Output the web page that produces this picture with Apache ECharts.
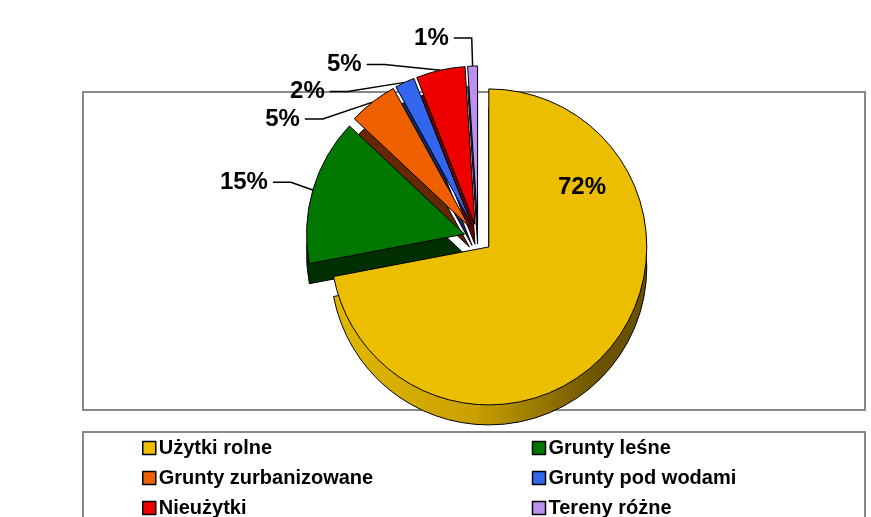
<!DOCTYPE html>
<html><head><meta charset="utf-8">
<script src="https://cdn.jsdelivr.net/npm/echarts@6/dist/echarts.min.js"></script>
<style>html,body{margin:0;padding:0;background:#fff}#c{width:871px;height:517px}</style>
</head><body><div id="c"></div>
<script>
const categories = ['Użytki rolne','Grunty leśne','Grunty zurbanizowane','Grunty pod wodami','Nieużytki','Tereny różne'];
const values = [72, 15, 5, 2, 5, 1];
const colors = ['#EBBE00','#007800','#EE6000','#3366EE','#EE0000','#BB90EE'];
const sideColors = ['#8A6E00','#003000','#662800','#132A66','#6A0000','#4E3C70'];

const font = "'Liberation Sans', Arial, sans-serif";
const chart = echarts.init(document.getElementById('c'), null, {renderer:'canvas'});

const topData = categories.map((n,i)=>({
  name:n, value:values[i], selected:true,
  itemStyle:{color:colors[i]},
  label: i===0 ? {position:'inside', padding:[0,0,0,60], lineHeight:28, formatter:'{c}%\n \n \n \n \n \n \n \n '} : {}
}));
const sideData = categories.map((n,i)=>({
  name:n, value:values[i], selected:true,
  itemStyle:{color: i===0 ? new echarts.graphic.LinearGradient(0,0,1,0,[
    {offset:0,color:'#E2B800'},{offset:0.45,color:'#C9A000'},{offset:0.85,color:'#6A5200'},{offset:1,color:'#6A5200'}
  ]) : sideColors[i]}
}));

chart.setOption({
  animation:false,
  color: colors,
  graphic:[
    {type:'rect', shape:{x:83,y:92,width:782,height:318}, style:{fill:'none',stroke:'#888',lineWidth:2}, z:-10},
    {type:'rect', shape:{x:83,y:432,width:782,height:90}, style:{fill:'none',stroke:'#888',lineWidth:2}, z:-10}
  ],
  legend:{
    data:categories.map((n,i)=>({name:n, itemStyle:{color:colors[i]}})),
    left:137, top:428, width:800, orient:'horizontal',
    itemGap:0, itemWidth:13, itemHeight:13, icon:'rect', selectedMode:false,
    itemStyle:{borderColor:'#000', borderWidth:1.5},
    textStyle:{fontFamily:font, fontWeight:'bold', fontSize:20, color:'#000', width:373, height:30, lineHeight:30, padding:[0,0,0,-2]}
  },
  series:[
    {
      type:'pie', name:'side', center:[478,258], radius:[0,158], startAngle:90, clockwise:true,
      selectedMode:'multiple', selectedOffset:14, silent:true, z:1,
      label:{show:false}, labelLine:{show:false},
      itemStyle:{borderColor:'#000', borderWidth:1},
      data:sideData
    },
    {
      type:'pie', name:'Powierzchnia', center:[478,238], radius:[0,158], startAngle:90, clockwise:true,
      selectedMode:'multiple', selectedOffset:14, z:2,
      itemStyle:{borderColor:'#000', borderWidth:1},
      label:{show:true, formatter:'{c}%', fontFamily:font, fontWeight:'bold', fontSize:24, color:'#000'},
      labelLine:{show:true, length:28, length2:18, lineStyle:{color:'#000', width:1.5}},
      data:topData
    }
  ]
});
</script></body></html>
